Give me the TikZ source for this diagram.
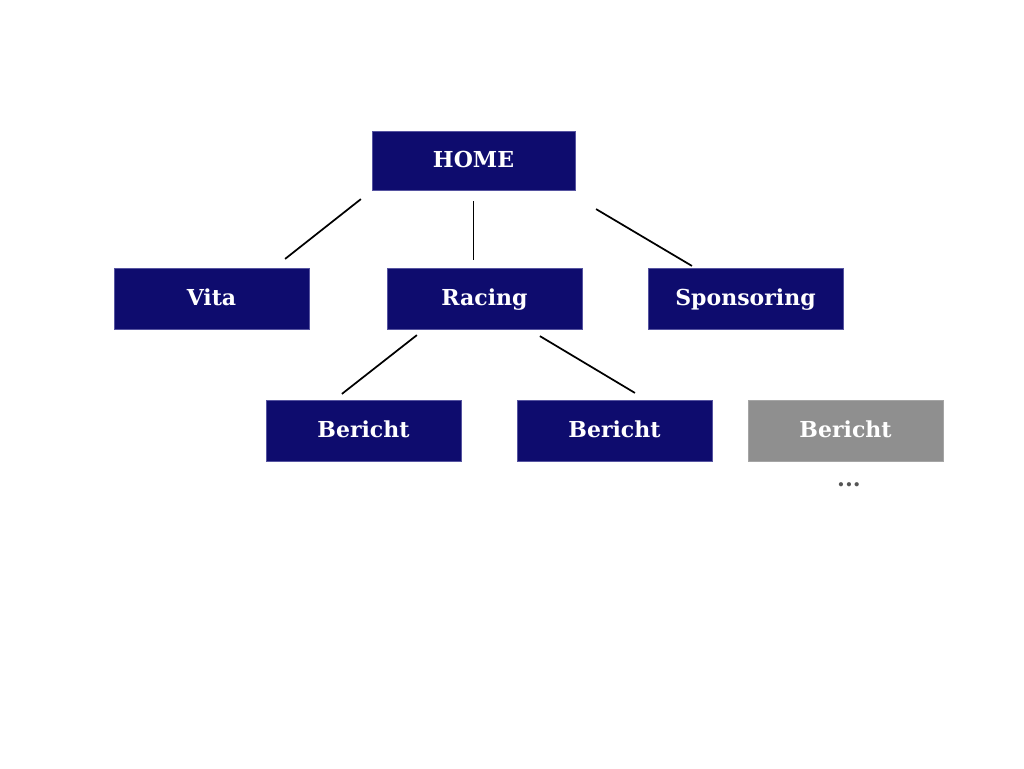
\documentclass[tikz,border=0pt]{standalone}
\usepackage{fontspec}
\setmainfont{DejaVu Serif}
\usetikzlibrary{positioning,calc}
\definecolor{navy}{HTML}{0E0C6E}
\definecolor{navyedge}{HTML}{5654A0}
\definecolor{greybox}{HTML}{8F8F8F}
\definecolor{dots}{HTML}{555555}
\begin{document}
\begin{tikzpicture}[
  x=0.75pt, y=-0.75pt,
  font=\fontsize{16.5}{18}\selectfont\bfseries,
  page/.style={draw=navyedge, line width=0.4pt, fill=navy, text=white,
    minimum width=146pt, minimum height=45.5pt, inner sep=0pt,
    text height=2.1ex, text depth=0.2ex},
  more/.style={page, draw=greybox!80!white, fill=greybox},
  link/.style={line width=1.3pt}
]
\useasboundingbox (0,0) rectangle (1024,768);
% Level 0
\node[page, minimum width=152pt, minimum height=44pt] (home) at (473.5,160.5) {HOME};
% Level 1
\node[page] (vita)   at (211.5,298.5) {Vita};
\node[page] (racing) at (484.5,298.5) {Racing};
\node[page] (spons)  at (745.5,298.5) {Sponsoring};
% Level 2 (reports)
\node[page] (rep1) at (363.5,430.5) {Bericht};
\node[page] (rep2) at (614.5,430.5) {Bericht};
\node[more] (rep3) at (845.5,430.5) {Bericht};
\node[text=dots, font=\fontsize{17}{18}\selectfont\bfseries] (etc) at (849,485) {...};

% connectors stop short of the boxes
\coordinate (hv) at ($(home.south west)+(-11,9)$);
\coordinate (vh) at ($(vita.north east)+(-24,-9)$);
\coordinate (hr) at ($(home.south)+(0,11)$);
\coordinate (rh) at ($(racing.north)+(-11,-8)$);
\coordinate (hs) at ($(home.south east)+(21,19)$);
\coordinate (sh) at ($(spons.north west)+(44,-2)$);
\coordinate (r1) at ($(racing.south west)+(30,6)$);
\coordinate (1r) at ($(rep1.north west)+(76,-6)$);
\coordinate (r2) at ($(racing.south west)+(153,7)$);
\coordinate (2r) at ($(rep2.north west)+(118,-7)$);
\draw[link] (hv) -- (vh);
\draw[link] (hr) -- (rh -| hr);
\draw[link] (hs) -- (sh);
\draw[link] (r1) -- (1r);
\draw[link] (r2) -- (2r);
\end{tikzpicture}
\end{document}
